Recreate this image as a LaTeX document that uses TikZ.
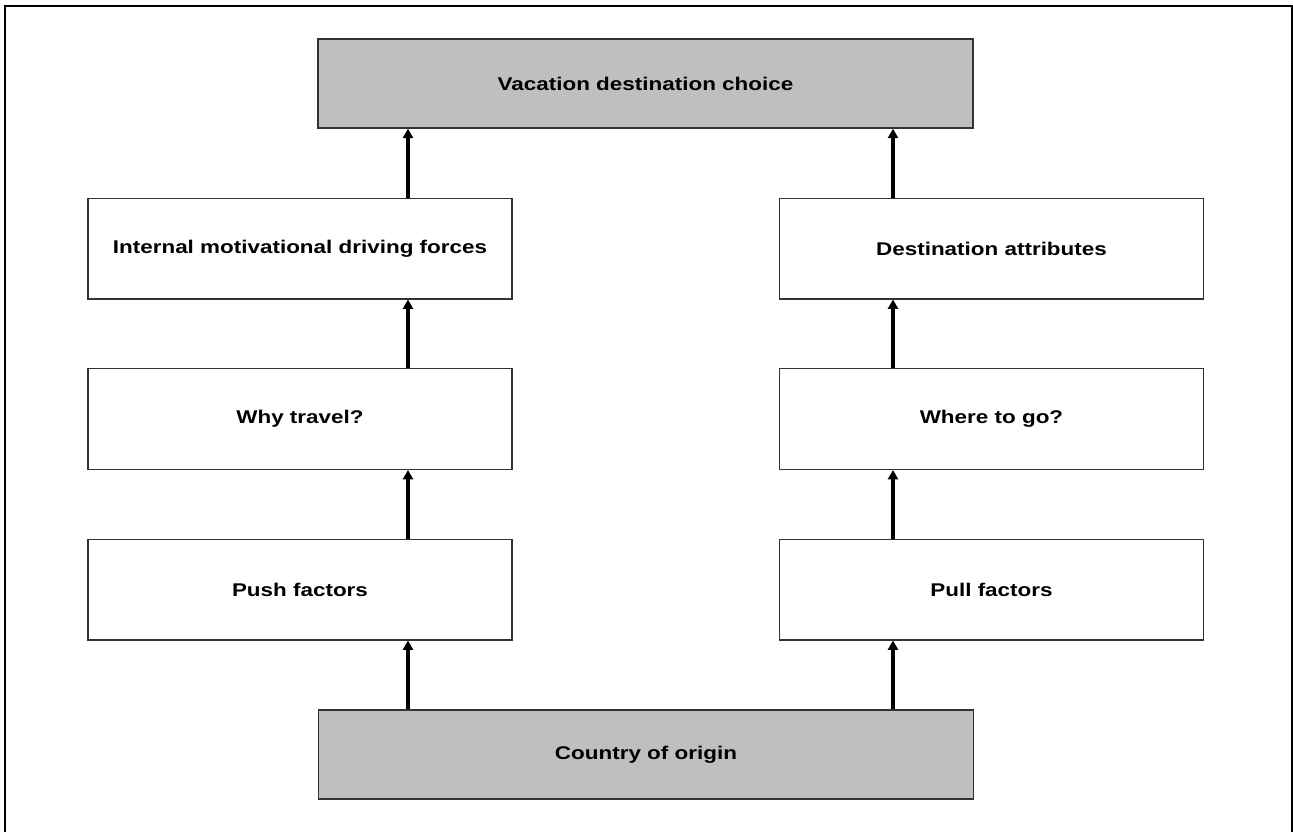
\documentclass[tikz,border=0pt]{standalone}
\usepackage{fontspec}
\newfontfamily\boxfont{Liberation Sans}[FakeStretch=1.22]
\usetikzlibrary{arrows.meta}
\definecolor{boxgray}{HTML}{BFBFBF}
\begin{document}
\begin{tikzpicture}[x=0.75pt,y=-0.75pt,
  box/.style={draw=black!80,line width=1.1pt,fill=white,inner sep=0pt,
    font=\boxfont\bfseries\fontsize{13.8}{16}\selectfont},
  sidebox/.style={box,minimum width=318pt,minimum height=75.4pt},
  endbox/.style={box,fill=boxgray,minimum width=491pt,minimum height=66.75pt},
  arr/.style={line width=2.6pt,-{Triangle[length=7pt,width=7.5pt]}}]
\useasboundingbox (0,0) rectangle (1293,832);
% outer frame, open at the bottom
\draw[line width=1.9pt] (5,845) -- (5,6) -- (1292,6) -- (1292,845);

% end points of the two chains
\node[endbox] (choice) at (645.5,83.5) {Vacation destination choice};
\node[endbox] (origin) at (646,754.5) {Country of origin};

% left chain
\node[sidebox] (internal) at (300,248.5) {Internal motivational driving forces};
\node[sidebox] (why)      at (300,419)   {Why travel?};
\node[sidebox] (push)     at (300,589.5) {Push factors};

% right chain
\node[sidebox] (attrib) at (991.5,248.5) {Destination attributes};
\node[sidebox] (where)  at (991.5,419)   {Where to go?};
\node[sidebox] (pull)   at (991.5,589.5) {Pull factors};

% arrow columns
\coordinate (lx) at (408,0);
\coordinate (rx) at (893,0);

\draw[arr] (origin.north -| lx) -- (push.south -| lx);
\draw[arr] (push.north -| lx) -- (why.south -| lx);
\draw[arr] (why.north -| lx) -- (internal.south -| lx);
\draw[arr] (internal.north -| lx) -- (choice.south -| lx);

\draw[arr] (origin.north -| rx) -- (pull.south -| rx);
\draw[arr] (pull.north -| rx) -- (where.south -| rx);
\draw[arr] (where.north -| rx) -- (attrib.south -| rx);
\draw[arr] (attrib.north -| rx) -- (choice.south -| rx);
\end{tikzpicture}
\end{document}
